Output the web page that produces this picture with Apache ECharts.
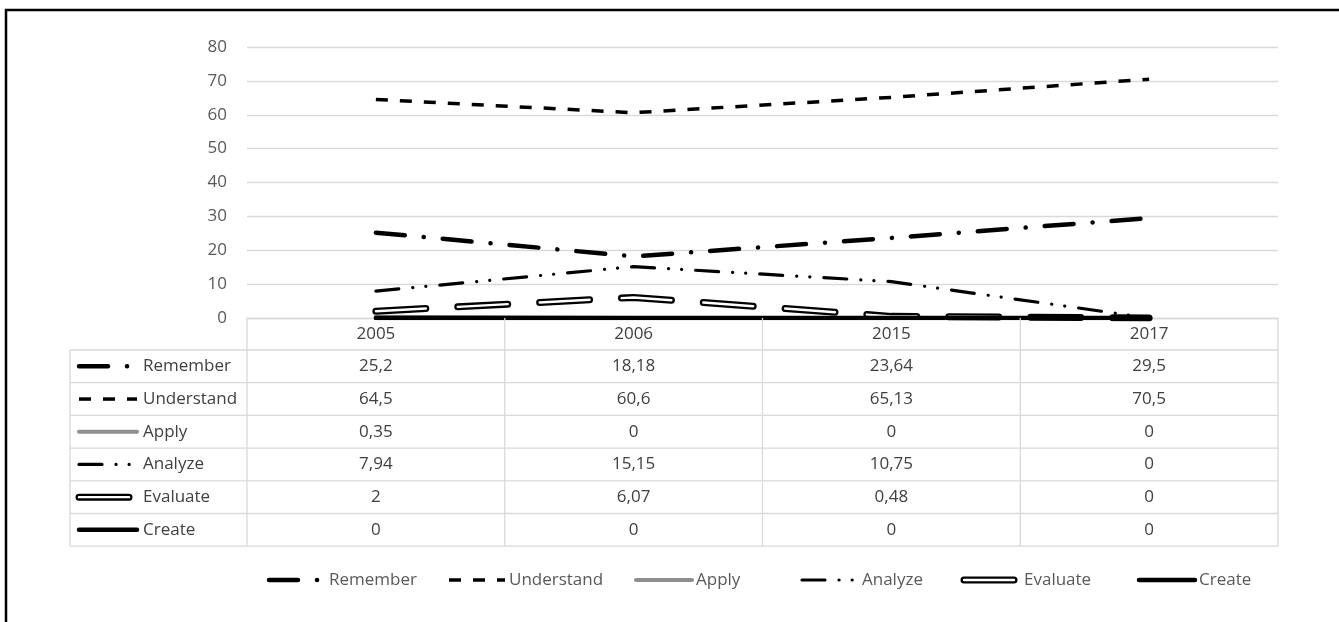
<!DOCTYPE html>
<html>
<head>
<meta charset="utf-8">
<script src="https://cdn.jsdelivr.net/npm/echarts@6/dist/echarts.min.js"></script>
<style>
  html, body { margin: 0; padding: 0; background: #fff; }
  #chart { width: 1339px; height: 622px; }
</style>
</head>
<body>
<div id="chart"></div>
<script>
// Categories and series values
const years = ['2005', '2006', '2015', '2017'];
const remember = [25.2, 18.18, 23.64, 29.5];
const understand = [64.5, 60.6, 65.13, 70.5];
const apply = [0.35, 0, 0, 0];
const analyze = [7.94, 15.15, 10.75, 0];
const evaluate = [2, 6.07, 0.48, 0];
const create = [0, 0, 0, 0];

// Value axis range
const yMin = 0;
const yMax = 80;
const yStep = 10;

const seriesList = [
  { name: 'Remember', values: remember },
  { name: 'Understand', values: understand },
  { name: 'Apply', values: apply },
  { name: 'Analyze', values: analyze },
  { name: 'Evaluate', values: evaluate },
  { name: 'Create', values: create }
];

// Stroke layers per series (Evaluate is a double line: black outer, white core)
const looks = {
  Remember:   [{ color: '#000', width: 4.5, dash: [29, 19, 0.1, 19], cap: 'round' }],
  Understand: [{ color: '#000', width: 3.5, dash: [12, 12], cap: 'butt' }],
  Apply:      [{ color: '#8f8f8f', width: 4, dash: null, cap: 'round' }],
  Analyze:    [{ color: '#000', width: 3.2, dash: [23, 14, 0.1, 13, 0.1, 14], cap: 'round' }],
  Evaluate:   [{ color: '#000', width: 7, dash: [50, 32], cap: 'round' },
               { color: '#fff', width: 2.4, dash: [50, 32], cap: 'round' }],
  Create:     [{ color: '#000', width: 4.5, dash: null, cap: 'round' }]
};

const FONT_FAMILY = '"Open Sans", "Noto Sans", sans-serif';
const FONT_SIZE = 17;
const TEXT_COLOR = '#595959';
const TABLE_TEXT = '#404040';
const RULE = '#d9d9d9';

const chart = echarts.init(document.getElementById('chart'), null, { renderer: 'canvas' });

const series = [];
seriesList.forEach(function (s) {
  looks[s.name].forEach(function (lk, k) {
    series.push({
      type: 'line',
      name: s.name,
      id: s.name + '-' + k,
      data: s.values,
      showSymbol: false,
      symbol: 'none',
      silent: true,
      lineStyle: {
        color: lk.color,
        width: lk.width,
        type: lk.dash ? lk.dash : 'solid',
        cap: lk.cap,
        join: 'round'
      },
      emphasis: { disabled: true }
    });
  });
});

chart.setOption({
  animation: false,
  backgroundColor: '#fff',
  grid: { left: 247, right: 61, top: 47, bottom: 304 },
  xAxis: {
    type: 'category',
    data: years,
    boundaryGap: true,
    axisLine: { show: true, lineStyle: { color: RULE, width: 1.3 } },
    axisTick: { show: false },
    axisLabel: { show: false },
    splitLine: { show: false }
  },
  yAxis: {
    type: 'value',
    min: yMin,
    max: yMax,
    interval: yStep,
    axisLine: { show: false },
    axisTick: { show: false },
    axisLabel: {
      color: TEXT_COLOR,
      fontFamily: FONT_FAMILY,
      fontSize: FONT_SIZE,
      margin: 20
    },
    splitLine: { show: true, lineStyle: { color: RULE, width: 1.3 } }
  },
  series: series
});

// Data table and legend, laid out from the axis geometry
function fmt(v) { return String(v).replace('.', ','); }

function sample(name, x0, x1, y) {
  return looks[name].map(function (lk) {
    return {
      type: 'polyline',
      silent: true,
      z: 10,
      shape: { points: [[x0, y], [x1, y]] },
      style: {
        stroke: lk.color,
        lineWidth: lk.width,
        lineDash: lk.dash || null,
        lineCap: lk.cap,
        fill: null
      }
    };
  });
}

function label(text, x, y, align, color) {
  return {
    type: 'text',
    silent: true,
    z: 12,
    style: {
      text: text,
      x: x,
      y: y,
      fill: color,
      font: FONT_SIZE + 'px ' + FONT_FAMILY,
      align: align,
      verticalAlign: 'middle',
      textAlign: align,
      textVerticalAlign: 'middle'
    }
  };
}

function rule(x1, y1, x2, y2) {
  return {
    type: 'line',
    silent: true,
    z: 5,
    shape: { x1: x1, y1: y1, x2: x2, y2: y2 },
    style: { stroke: RULE, lineWidth: 1.3 }
  };
}

const centers = years.map(function (y, i) { return chart.convertToPixel({ xAxisIndex: 0 }, i); });
const band = centers[1] - centers[0];
const colEdges = [centers[0] - band / 2].concat(centers.map(function (c) { return c + band / 2; }));
const tableTop = chart.convertToPixel({ yAxisIndex: 0 }, yMin);
const headerH = 32;
const rowH = 32.7;
const tableLeft = 70;
const rowsTop = tableTop + headerH;
const tableBottom = rowsTop + rowH * seriesList.length;

const g = [];

// outer frame
g.push({
  type: 'rect', silent: true, z: 20,
  shape: { x: 6, y: 10, width: 1400, height: 700 },
  style: { fill: 'transparent', stroke: '#000', lineWidth: 2.5 }
});

// table grid lines
colEdges.forEach(function (x) { g.push(rule(x, tableTop, x, tableBottom)); });
g.push(rule(tableLeft, rowsTop, tableLeft, tableBottom));
for (let r = 0; r <= seriesList.length; r++) {
  const y = rowsTop + rowH * r;
  g.push(rule(tableLeft, y, colEdges[colEdges.length - 1], y));
}

// header row
years.forEach(function (yr, i) {
  g.push(label(yr, centers[i], tableTop + headerH / 2 + 0.5, 'center', TABLE_TEXT));
});

// body rows: key, name, values
seriesList.forEach(function (s, r) {
  const cy = rowsTop + rowH * r + rowH / 2;
  sample(s.name, 79, 137, cy).forEach(function (e) { g.push(e); });
  g.push(label(s.name, 143, cy, 'left', TABLE_TEXT));
  s.values.forEach(function (v, i) {
    g.push(label(fmt(v), centers[i], cy, 'center', TABLE_TEXT));
  });
});

// bottom legend
const legendY = 580;
const legendStarts = [267, 447, 634, 800, 962, 1137];
seriesList.forEach(function (s, i) {
  const x0 = legendStarts[i];
  sample(s.name, x0 + 2, x0 + 58, legendY).forEach(function (e) { g.push(e); });
  g.push(label(s.name, x0 + 62, legendY, 'left', TEXT_COLOR));
});

chart.setOption({ graphic: { elements: g } });
</script>
</body>
</html>
